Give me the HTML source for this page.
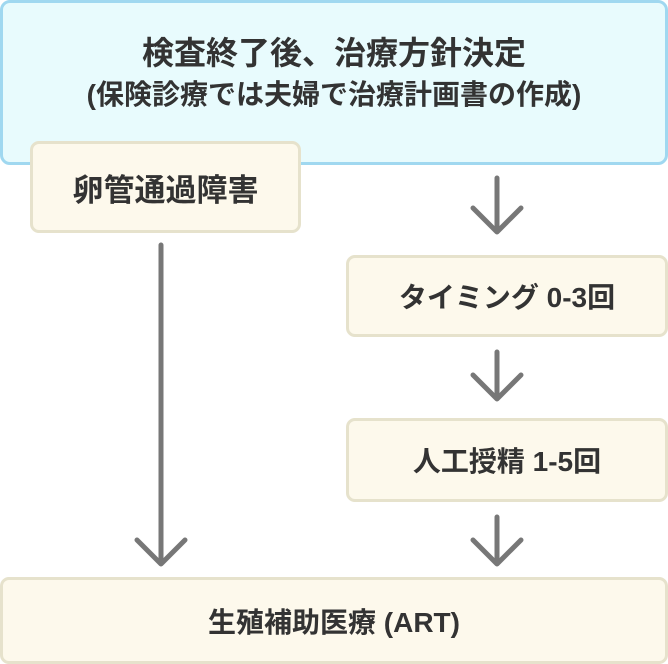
<!DOCTYPE html>
<html><head><meta charset="utf-8"><style>
body{margin:0;width:668px;height:664px;position:relative;background:#fff;font-family:"Liberation Sans","Noto Sans CJK JP",sans-serif;font-weight:bold;color:#333;overflow:hidden}
.b{position:absolute;box-sizing:border-box;display:flex;align-items:center;justify-content:center;text-align:center;white-space:nowrap}
.y{background:#fdf9ec;border:3px solid #e6e2cc;border-radius:9px;font-size:28px}
</style></head><body>
<div class="b" style="left:0;top:0;width:668px;height:165px;background:#e8fbfd;border:3px solid #a0d8f0;border-radius:10px;flex-direction:column;justify-content:flex-start;padding-top:28px">
<div style="font-size:32px;line-height:44px">検査終了後、治療方針決定</div>
<div style="font-size:28px;line-height:40px;margin-top:0px">(保険診療では夫婦で治療計画書の作成)</div>
</div>
<div class="y b" style="left:30px;top:141px;width:271px;height:92px;font-size:31px">卵管通過障害</div>
<div class="y b" style="left:346px;top:255px;width:322px;height:82px">タイミング 0-3回</div>
<div class="y b" style="left:346px;top:418px;width:322px;height:84px">人工授精 1-5回</div>
<div class="y b" style="left:0;top:577px;width:668px;height:87px">生殖補助医療 (ART)</div>
<svg width="668" height="664" style="position:absolute;left:0;top:0" fill="none" stroke="#777" stroke-width="5" stroke-linecap="round" stroke-linejoin="round">
<path d="M161 245V563M137 540L161 564L185 540"/>
<path d="M497 178V231M473 208L497 232L521 208"/>
<path d="M497 352V398M473 375L497 399L521 375"/>
<path d="M497 517V563M473 540L497 564L521 540"/>
</svg>
</body></html>
